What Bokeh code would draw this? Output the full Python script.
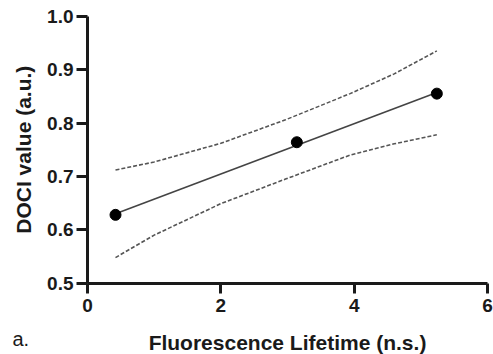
import math
from bokeh.plotting import figure
from bokeh.models import Range1d, FixedTicker, Label, CustomJSTickFormatter
from bokeh.embed import file_html
from bokeh.resources import INLINE

# Data
lifetime = [0.42, 3.14, 5.24]
doci = [0.628, 0.764, 0.855]

fit_x = [0.42, 5.24]
fit_y = [0.630, 0.857]

band_x = [0.42, 1.0, 2.0, 2.97, 3.94, 4.6, 5.24]
band_upper = [0.712, 0.727, 0.762, 0.806, 0.855, 0.892, 0.935]
band_lower = [0.548, 0.590, 0.649, 0.695, 0.740, 0.761, 0.778]

x_ticks = [0, 2, 4, 6]
y_ticks = [0.5, 0.6, 0.7, 0.8, 0.9, 1.0]
x_bounds = (0, 6)
y_bounds = (0.5, 1.0)

x_title = "Fluorescence Lifetime (n.s.)"
y_title = "DOCI value (a.u.)"
panel_tag = "a."

FONT = "Liberation Sans"
INK = "#1a1a1a"

# Frame covers whole canvas; axes are pinned at x=0 / y=0.5
p = figure(width=493, height=354, output_backend="svg", toolbar_location=None,
           x_range=Range1d(-1.305, 6.09), y_range=Range1d(0.3665, 1.0294),
           min_border=0, min_border_left=0, min_border_right=0,
           min_border_top=0, min_border_bottom=0)
p.outline_line_color = None
p.grid.visible = False
p.background_fill_color = "white"
p.border_fill_color = "white"

for ax in (p.xaxis[0], p.yaxis[0]):
    ax.axis_line_width = 3
    ax.axis_line_color = INK
    ax.major_tick_line_width = 3
    ax.major_tick_line_color = INK
    ax.minor_tick_line_color = None
    ax.major_tick_in = 0
    ax.major_label_text_font = FONT
    ax.major_label_text_font_style = "bold"
    ax.major_label_text_font_size = "19px"
    ax.major_label_text_color = INK

p.xaxis[0].fixed_location = y_bounds[0]
p.yaxis[0].fixed_location = x_bounds[0]
p.xaxis[0].bounds = x_bounds
p.yaxis[0].bounds = y_bounds
p.xaxis[0].ticker = FixedTicker(ticks=x_ticks)
p.yaxis[0].ticker = FixedTicker(ticks=y_ticks)
p.yaxis[0].formatter = CustomJSTickFormatter(code="return tick.toFixed(1);")
p.xaxis[0].major_tick_out = 10
p.yaxis[0].major_tick_out = 11
p.xaxis[0].major_label_standoff = 6
p.yaxis[0].major_label_standoff = 3

p.line(band_x, band_upper, line_color="#555555", line_width=1.6, line_dash="4 2")
p.line(band_x, band_lower, line_color="#555555", line_width=1.6, line_dash="4 2")
p.line(fit_x, fit_y, line_color="#444444", line_width=1.6)
p.scatter(lifetime, doci, size=11, fill_color="black", line_color="black")

p.add_layout(Label(x=3.0, y=0.389, text=x_title, text_align="center",
                   text_baseline="alphabetic", text_font=FONT, text_font_style="bold",
                   text_font_size="21px", text_color=INK))
p.add_layout(Label(x=-0.96, y=0.750, text=y_title, angle=math.pi / 2,
                   text_align="center", text_baseline="middle", text_font=FONT,
                   text_font_style="bold", text_font_size="21px", text_color=INK))
p.add_layout(Label(x=-1.125, y=0.3946, text=panel_tag, text_align="left",
                   text_baseline="alphabetic", text_font=FONT,
                   text_font_size="20px", text_color=INK))

open("out.html", "w").write(file_html(p, INLINE))
